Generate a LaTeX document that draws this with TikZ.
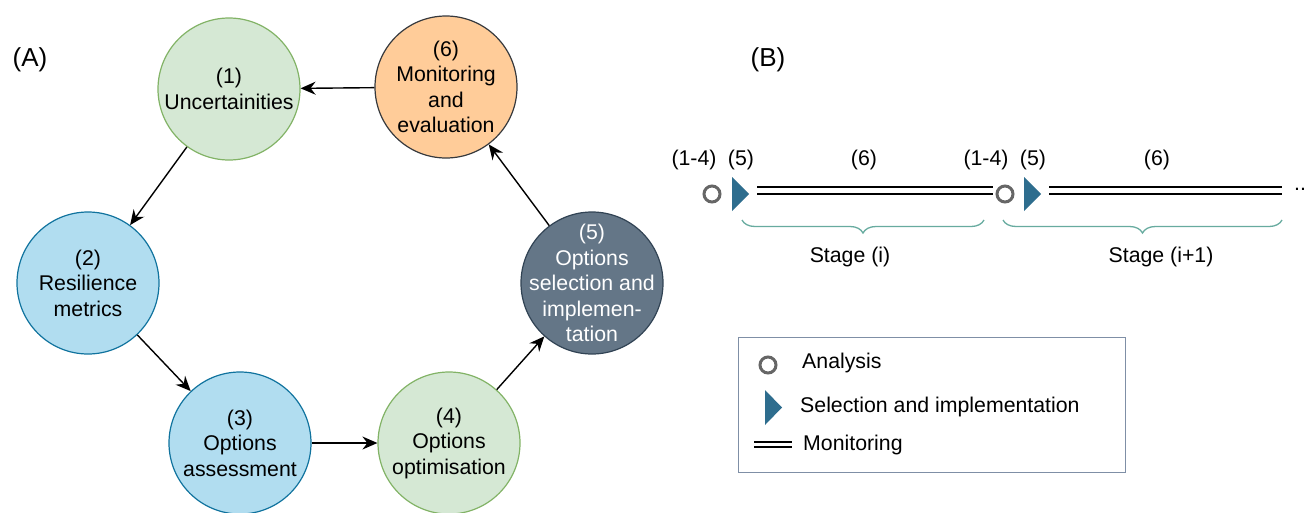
\documentclass[tikz,border=0pt]{standalone}
\usepackage{fontspec}
\setmainfont{Liberation Sans}
\usetikzlibrary{arrows.meta,decorations.pathreplacing}
\definecolor{gfill}{HTML}{D5E8D4}
\definecolor{gline}{HTML}{82B366}
\definecolor{bfill}{HTML}{B1DDF0}
\definecolor{bline}{HTML}{10739E}
\definecolor{dfill}{HTML}{647687}
\definecolor{dline}{HTML}{314354}
\definecolor{ofill}{HTML}{FFCC99}
\definecolor{oline}{HTML}{36393D}
\definecolor{tri}{HTML}{2E6D8E}
\definecolor{anal}{HTML}{666666}
\definecolor{brc}{HTML}{67AB9F}
\definecolor{legline}{HTML}{7F8FA6}
\tikzset{
  stepnode/.style={circle, minimum size=142pt, inner sep=0pt, line width=1.2pt},
  steptext/.style={inner sep=0pt, align=center, font=\fontsize{21.3}{25.5}\selectfont},
  greennode/.style={stepnode, fill=gfill, draw=gline},
  bluenode/.style={stepnode, fill=bfill, draw=bline},
  darknode/.style={stepnode, fill=dfill, draw=dline},
  orangenode/.style={stepnode, fill=ofill, draw=oline},
  conn/.style={line width=1.4pt, -{Stealth[length=15pt,width=13pt,inset=5pt]}},
  txt/.style={font=\fontsize{21.3}{25}\selectfont, inner sep=0pt},
  panel/.style={font=\fontsize{26}{30}\selectfont, inner sep=0pt},
  anamark/.style={circle, draw=anal, line width=3pt, minimum size=16pt, inner sep=0pt},
  monline/.style={line width=1.7pt, black},
  stagebrace/.style={draw=brc, line width=1.3pt, decorate,
    decoration={brace, mirror, amplitude=13pt, raise=0pt}},
}
\begin{document}
\begin{tikzpicture}[x=1pt,y=-1pt]
\useasboundingbox (0,0) rectangle (1306,512);
% ---------- Panel A ----------
\node[panel] (labA) at (30,60) {(A)};
\node[greennode]  (n1) at (229,89)  {};
\node[bluenode]   (n2) at (88,283)  {};
\node[bluenode]   (n3) at (240,443) {};
\node[greennode]  (n4) at (449,443) {};
\node[darknode]   (n5) at (592,283) {};
\node[orangenode] (n6) at (446,87)  {};
\node[steptext] (n1t) at (n1) {(1)\\Uncertainities};
\node[steptext] (n2t) at (n2) {(2)\\Resilience\\metrics};
\node[steptext] (n3t) at (n3) {(3)\\Options\\assessment};
\node[steptext] (n4t) at (n4) {(4)\\Options\\optimisation};
\node[steptext, text=white] (n5t) at (n5) {(5)\\Options\\selection and\\implemen-\\tation};
\node[steptext] (n6t) at (n6) {(6)\\Monitoring\\and\\evaluation};
\draw[conn] (n1) -- (n2);
\draw[conn] (n2) -- (n3);
\draw[conn] (n3) -- (n4);
\draw[conn] (n4) -- (n5);
\draw[conn] (n5) -- (n6);
\draw[conn] (n6) -- (n1);
% ---------- Panel B ----------
\node[panel] (labB) at (768,60) {(B)};
\node[txt] (t14a) at (694,160) {(1-4)};
\node[txt] (t5a)  at (741,160) {(5)};
\node[txt] (t6a)  at (864,160) {(6)};
\node[txt] (t14b) at (986,160) {(1-4)};
\node[txt] (t5b)  at (1033,160) {(5)};
\node[txt] (t6b)  at (1157,160) {(6)};
\node[anamark] (a1) at (712,194) {};
\fill[tri] (732,177) -- (749,194) -- (732,211) -- cycle;
\coordinate (m1s) at (757,190.5);
\coordinate (m1e) at (993,190.5);
\draw[monline] ([yshift=-3.8pt]m1s) -- ([yshift=-3.8pt]m1e);
\draw[monline] ([yshift=3.8pt]m1s) -- ([yshift=3.8pt]m1e);
\node[anamark] (a2) at (1005,194) {};
\fill[tri] (1024,177) -- (1041,194) -- (1024,211) -- cycle;
\coordinate (m2s) at (1049,190.5);
\coordinate (m2e) at (1282,190.5);
\draw[monline] ([yshift=-3.8pt]m2s) -- ([yshift=-3.8pt]m2e);
\draw[monline] ([yshift=3.8pt]m2s) -- ([yshift=3.8pt]m2e);
\node[txt] (dots) at (1300,189) {..};
\coordinate (b1s) at (742,220);
\coordinate (b1e) at (984,220);
\draw[stagebrace] (b1s) -- (b1e);
\coordinate (b2s) at (1003,220);
\coordinate (b2e) at (1282,220);
\draw[stagebrace] (b2s) -- (b2e);
\node[txt] (st1) at (850,257) {Stage (i)};
\node[txt] (st2) at (1161,257) {Stage (i+1)};
% ---------- Legend ----------
\node[draw=legline, line width=1pt, minimum width=387pt, minimum height=135pt, inner sep=0pt] (leg) at (931.5,404.5) {};
\node[anamark] (la) at (768,365) {};
\node[txt, anchor=west] (lat) at (802,363) {Analysis};
\fill[tri] (765,390) -- (782,407.5) -- (765,425) -- cycle;
\node[txt, anchor=west] (lst) at (800,407) {Selection and implementation};
\coordinate (lms) at (754,444.5);
\coordinate (lme) at (792,444.5);
\draw[monline] ([yshift=-2.8pt]lms) -- ([yshift=-2.8pt]lme);
\draw[monline] ([yshift=2.8pt]lms) -- ([yshift=2.8pt]lme);
\node[txt, anchor=west] (lmt) at (803,445) {Monitoring};
\end{tikzpicture}
\end{document}
